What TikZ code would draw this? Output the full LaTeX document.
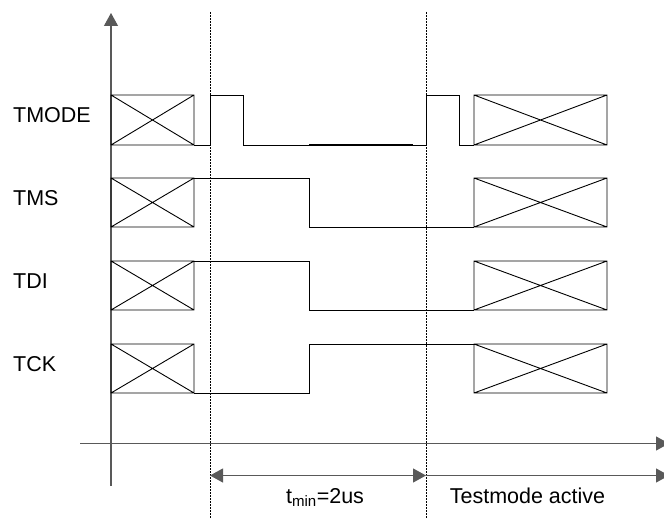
\documentclass[tikz,border=0pt]{standalone}
\usepackage{fontspec}
\setmainfont{Liberation Sans}
\usetikzlibrary{arrows.meta}
\begin{document}
\begin{tikzpicture}[x=1pt,y=-1pt,
  sig/.style={line width=0.9pt,black},
  axis/.style={line width=1.1pt,black!65},
  guide/.style={line width=0.8pt,black,dash pattern=on 2pt off 1pt},
  xbox/.style={line width=0.9pt,black},
  lbl/.style={anchor=base west,inner sep=0pt,font=\fontsize{21.5}{25}\selectfont},
  btm/.style={anchor=base,inner sep=0pt,font=\fontsize{21.5}{25}\selectfont},
  tip/.style={-{Triangle[length=13pt,width=14pt]}},
  dtip/.style={{Triangle[length=13pt,width=14pt]}-{Triangle[length=13pt,width=14pt]}}]
\useasboundingbox (0,0) rectangle (664,519);
% guides
\coordinate (g1t) at (210,12); \coordinate (g1b) at (210,519);
\coordinate (g2t) at (426,12); \coordinate (g2b) at (426,519);
\draw[guide] (g1t) -- (g1b);
\draw[guide] (g2t) -- (g2b);
% axes
\coordinate (yb) at (111,486); \coordinate (yt) at (111,13);
\coordinate (xl) at (80,443.5); \coordinate (xr) at (669,443.5);
\draw[axis,tip] (yb) -- (yt);
\draw[axis,tip] (xl) -- (xr);
% boxes with crosses
\foreach \yt/\ybm in {95/145,178/227,261/310,344/393}{
  \draw[xbox] (111,\yt) rectangle (194,\ybm) (111,\yt) -- (194,\ybm) (111,\ybm) -- (194,\yt);
  \draw[xbox] (474,\yt) rectangle (607,\ybm) (474,\yt) -- (607,\ybm) (474,\ybm) -- (607,\yt);
}
% TMODE
\draw[sig] (194,145) -- (210,145) -- (210,95) -- (243,95) -- (243,145) -- (426,145) -- (426,95) -- (459,95) -- (459,145) -- (474,145);
\draw[line width=2pt] (309,145) -- (413,145);
% TMS
\draw[sig] (194,178) -- (309,178) -- (309,227) -- (474,227);
% TDI
\draw[sig] (194,261) -- (309,261) -- (309,310) -- (474,310);
% TCK
\draw[sig] (194,393) -- (309,393) -- (309,344) -- (474,344);
% labels
\node[lbl] (tmode) at (13,122) {TMODE};
\node[lbl] (tms) at (13,205) {TMS};
\node[lbl] (tdi) at (13,288) {TDI};
\node[lbl] (tck) at (13,371) {TCK};
% time arrows
\coordinate (a1) at (210,475.5); \coordinate (a2) at (426,475.5); \coordinate (a3) at (669,475.5);
\draw[axis,dtip] (a1) -- (a2);
\draw[axis,tip] (a2) -- (a3);
\node[btm] (tmin) at (325,503) {t\textsubscript{min}=2us};
\node[btm] (tact) at (527.5,503) {Testmode active};
\end{tikzpicture}
\end{document}
